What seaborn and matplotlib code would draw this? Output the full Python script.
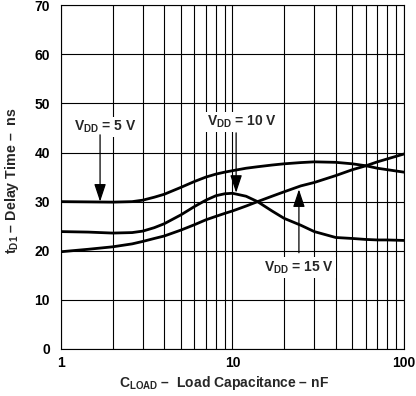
import numpy as np
import pandas as pd
import matplotlib
matplotlib.use("Agg")
import matplotlib.pyplot as plt
import seaborn as sns

# values (load capacitance in nF, delay in ns)
cload = [1, 1.44, 2, 2.6, 3, 3.5, 4, 5, 6, 7, 8, 9, 10, 12, 14, 17, 20, 25, 30, 40, 50, 60, 70, 80, 100]
td_5v = [30.0, 29.95, 29.9, 30.0, 30.3, 30.9, 31.5, 32.9, 34.1, 35.0, 35.6, 36.0, 36.3, 36.8, 37.1,
         37.45, 37.7, 37.95, 38.1, 38.0, 37.7, 37.3, 36.8, 36.5, 36.0]
td_10v = [23.9, 23.8, 23.6, 23.7, 24.0, 24.7, 25.5, 27.3, 29.0, 30.3, 31.2, 31.6, 31.7, 31.1, 30.0,
          28.1, 26.6, 25.2, 23.9, 22.7, 22.5, 22.3, 22.2, 22.2, 22.1]
td_15v = [19.8, 20.3, 20.8, 21.4, 21.9, 22.5, 23.0, 24.2, 25.3, 26.3, 27.0, 27.6, 28.1, 29.1, 30.0,
          31.1, 32.0, 33.2, 33.9, 35.3, 36.5, 37.3, 38.1, 38.7, 39.7]

series = {"5 V": td_5v, "10 V": td_10v, "15 V": td_15v}

sns.set_theme(style="white")
plt.rcParams["font.family"] = ["Liberation Sans", "DejaVu Sans"]
plt.rcParams["font.weight"] = "bold"
plt.rcParams["mathtext.fontset"] = "custom"
plt.rcParams["mathtext.rm"] = "Liberation Sans:bold"
plt.rcParams["mathtext.bf"] = "Liberation Sans:bold"
plt.rcParams["mathtext.it"] = "Liberation Sans:bold"

df = pd.concat([pd.DataFrame({"cload": cload, "td": v, "vdd": k}) for k, v in series.items()])

fig = plt.figure(figsize=(4.16, 3.96), dpi=100)
ax = fig.add_axes([0.1466, 0.1187, 0.8245, 0.8683])

for name in series:
    sns.lineplot(data=df[df["vdd"] == name], x="cload", y="td", color="black",
                 linewidth=2.0, ax=ax, legend=False)

ax.set_xscale("log")
ax.set_xlim(1, 100)
ax.set_ylim(0, 70)
ax.set_yticks(range(0, 71, 10))
ax.set_xticks([1, 10, 100])
ax.set_xticklabels(["1", "10", "100"])
ax.set_xticks([2, 3, 4, 5, 6, 7, 8, 9, 20, 30, 40, 50, 60, 70, 80, 90], minor=True)
ax.grid(True, which="both", axis="x", color="black", linewidth=0.8)
ax.grid(True, which="major", axis="y", color="black", linewidth=0.8)
ax.tick_params(axis="both", which="both", length=0, labelsize=10, colors="black")
ax.tick_params(axis="y", pad=8)
ax.tick_params(axis="x", pad=5)
for lab in ax.get_xticklabels() + ax.get_yticklabels():
    lab.set_fontweight("bold")
for sp in ax.spines.values():
    sp.set_color("black")
    sp.set_linewidth(0.8)

ax.set_xlabel(r"$\mathregular{C_{LOAD}}$ –  Load Capacitance – nF", fontsize=10, fontweight="bold")
ax.set_ylabel(r"$\mathregular{t_{D1}}$ – Delay Time –  ns", fontsize=10.3, fontweight="bold")
ax.xaxis.set_label_coords(0.475, -0.074)
ax.yaxis.set_label_coords(-0.118, 0.49)

box = dict(boxstyle="square,pad=0.15", fc="white", ec="none")
arrow = dict(arrowstyle="-|>,head_width=0.3,head_length=0.9", color="black",
             lw=0.9, shrinkA=0, shrinkB=0)

ax.text(1.82, 45.2, r"$\mathregular{V_{DD}}$ = 5 V", ha="center", va="center",
        fontsize=10, fontweight="bold", bbox=box)
ax.annotate("", xy=(1.69, 30.0), xytext=(1.69, 43.6), arrowprops=arrow)

ax.text(11.3, 46.2, r"$\mathregular{V_{DD}}$ = 10 V", ha="center", va="center",
        fontsize=10, fontweight="bold", bbox=box)
ax.annotate("", xy=(10.5, 31.8), xytext=(10.5, 44.0), arrowprops=arrow)

ax.text(24.4, 16.6, r"$\mathregular{V_{DD}}$ = 15 V", ha="center", va="center",
        fontsize=10, fontweight="bold", bbox=box)
ax.annotate("", xy=(24.4, 32.5), xytext=(24.4, 19.6), arrowprops=arrow)

fig.savefig("out.png", dpi=100)
